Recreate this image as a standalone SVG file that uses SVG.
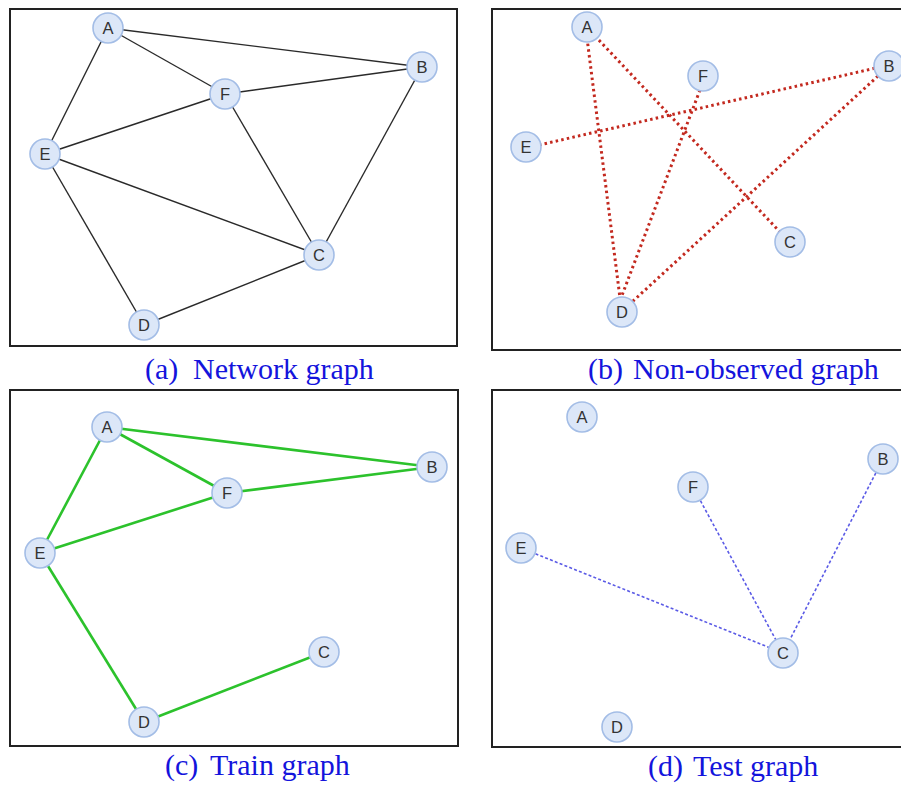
<svg xmlns="http://www.w3.org/2000/svg" width="901" height="786" viewBox="0 0 901 786">
<style>
.frame{fill:none;stroke:#222;stroke-width:2}
.n circle{fill:#dce7f8;stroke:#a3bde6;stroke-width:1.6}
.n text{font-family:"Liberation Sans",Arial,sans-serif;font-size:16.5px;fill:#333;text-anchor:middle;dominant-baseline:central}
.cap{font-family:"Liberation Serif","Times New Roman",serif;font-size:30px;fill:#1414dc}
.solid{stroke:#2a2a2a;stroke-width:1.4}
.red{stroke:#c3291f;stroke-width:3;stroke-dasharray:2.5 3.2}
.green{stroke:#2cc22c;stroke-width:2.6}
.blue{stroke:#5b5be6;stroke-width:1.6;stroke-dasharray:3 2.2}
</style>
<rect width="901" height="786" fill="#fff"/>
<rect class="frame" x="10" y="9" width="447" height="337"/>
<rect class="frame" x="492" y="9" width="430" height="341"/>
<rect class="frame" x="10" y="390" width="448" height="356"/>
<rect class="frame" x="492" y="390" width="430" height="357"/>
<g id="connectors">
<g id="edges-a" class="solid">
<line x1="108" y1="28" x2="422" y2="67"/>
<line x1="108" y1="28" x2="225" y2="94"/>
<line x1="108" y1="28" x2="45" y2="154"/>
<line x1="225" y1="94" x2="422" y2="67"/>
<line x1="45" y1="154" x2="225" y2="94"/>
<line x1="225" y1="94" x2="319" y2="255"/>
<line x1="422" y1="67" x2="319" y2="255"/>
<line x1="45" y1="154" x2="319" y2="255"/>
<line x1="45" y1="154" x2="144" y2="325"/>
<line x1="144" y1="325" x2="319" y2="255"/>
</g>
<g id="edges-b" class="red">
<line x1="587" y1="38" x2="620" y2="298"/>
<line x1="595" y1="36" x2="780" y2="232"/>
<line x1="539" y1="145" x2="876" y2="68"/>
<line x1="700" y1="90" x2="621" y2="298"/>
<line x1="878" y1="76" x2="632" y2="302"/>
</g>
<g id="edges-c" class="green">
<line x1="107" y1="427" x2="432" y2="467"/>
<line x1="107" y1="427" x2="227" y2="493"/>
<line x1="107" y1="427" x2="40" y2="553"/>
<line x1="227" y1="493" x2="432" y2="467"/>
<line x1="40" y1="553" x2="227" y2="493"/>
<line x1="40" y1="553" x2="144" y2="722"/>
<line x1="144" y1="722" x2="324" y2="652"/>
</g>
<g id="edges-d" class="blue">
<line x1="521" y1="548" x2="783" y2="653"/>
<line x1="693" y1="487" x2="783" y2="653"/>
<line x1="883" y1="459" x2="783" y2="653"/>
</g>
</g>
<g id="a-A" class="n"><circle cx="108" cy="28" r="15"/><text x="108" y="28">A</text></g>
<g id="a-B" class="n"><circle cx="422" cy="67" r="15"/><text x="422" y="67">B</text></g>
<g id="a-F" class="n"><circle cx="225" cy="94" r="15"/><text x="225" y="94">F</text></g>
<g id="a-E" class="n"><circle cx="45" cy="154" r="15"/><text x="45" y="154">E</text></g>
<g id="a-C" class="n"><circle cx="319" cy="255" r="15"/><text x="319" y="255">C</text></g>
<g id="a-D" class="n"><circle cx="144" cy="325" r="15"/><text x="144" y="325">D</text></g>
<g id="b-A" class="n"><circle cx="587" cy="27" r="15"/><text x="587" y="27">A</text></g>
<g id="b-F" class="n"><circle cx="703" cy="76" r="15"/><text x="703" y="76">F</text></g>
<g id="b-B" class="n"><circle cx="889" cy="66" r="15"/><text x="889" y="66">B</text></g>
<g id="b-E" class="n"><circle cx="526" cy="147" r="15"/><text x="526" y="147">E</text></g>
<g id="b-C" class="n"><circle cx="790" cy="242" r="15"/><text x="790" y="242">C</text></g>
<g id="b-D" class="n"><circle cx="622" cy="312" r="15"/><text x="622" y="312">D</text></g>
<g id="c-A" class="n"><circle cx="107" cy="427" r="15"/><text x="107" y="427">A</text></g>
<g id="c-B" class="n"><circle cx="432" cy="467" r="15"/><text x="432" y="467">B</text></g>
<g id="c-F" class="n"><circle cx="227" cy="493" r="15"/><text x="227" y="493">F</text></g>
<g id="c-E" class="n"><circle cx="40" cy="553" r="15"/><text x="40" y="553">E</text></g>
<g id="c-C" class="n"><circle cx="324" cy="652" r="15"/><text x="324" y="652">C</text></g>
<g id="c-D" class="n"><circle cx="144" cy="722" r="15"/><text x="144" y="722">D</text></g>
<g id="d-A" class="n"><circle cx="582" cy="417" r="15"/><text x="582" y="417">A</text></g>
<g id="d-B" class="n"><circle cx="883" cy="459" r="15"/><text x="883" y="459">B</text></g>
<g id="d-F" class="n"><circle cx="693" cy="487" r="15"/><text x="693" y="487">F</text></g>
<g id="d-E" class="n"><circle cx="521" cy="548" r="15"/><text x="521" y="548">E</text></g>
<g id="d-C" class="n"><circle cx="783" cy="653" r="15"/><text x="783" y="653">C</text></g>
<g id="d-D" class="n"><circle cx="617" cy="727" r="15"/><text x="617" y="727">D</text></g>
<text class="cap" x="145" y="379">(a)<tspan x="193">Network graph</tspan></text>
<text class="cap" x="588" y="379">(b)<tspan x="633">Non-observed graph</tspan></text>
<text class="cap" x="165" y="775">(c)<tspan x="210">Train graph</tspan></text>
<text class="cap" x="648" y="776">(d)<tspan x="693">Test graph</tspan></text>
</svg>
